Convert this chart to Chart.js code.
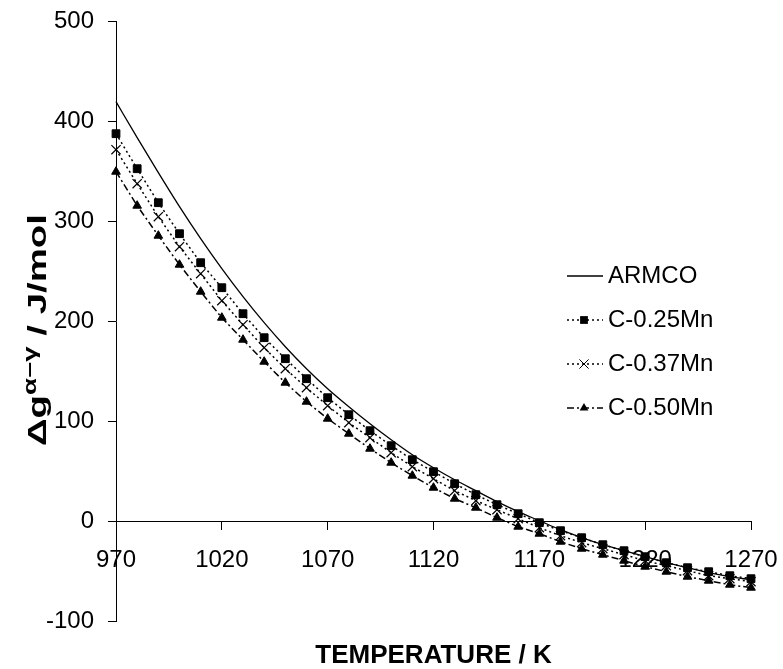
<!DOCTYPE html>
<html>
<head>
<meta charset="utf-8">
<script src="https://cdn.jsdelivr.net/npm/chart.js@4.4.1/dist/chart.umd.min.js"></script>
<style>
  html, body { margin: 0; padding: 0; background: #fff; }
</style>
</head>
<body>
<canvas id="grafico" width="783" height="669"></canvas>
<script>
// Temperaturas (K)
const temperaturas = [970, 980, 990, 1000, 1010, 1020, 1030, 1040, 1050, 1060, 1070,
  1080, 1090, 1100, 1110, 1120, 1130, 1140, 1150, 1160, 1170,
  1180, 1190, 1200, 1210, 1220, 1230, 1240, 1250, 1260, 1270];

// Δg (J/mol) para cada serie
const armco = [420, 384, 349, 315, 283, 253, 225, 199, 175, 153, 133,
  115, 98, 82, 67, 54, 42, 31, 20, 10, 1,
  -8, -16, -23, -29, -35, -41, -46, -51, -55, -58];
const c025Mn = [388, 353, 319, 288, 259, 234, 208, 184, 163, 143, 124,
  107, 91, 76, 62, 50, 38, 27, 17, 8, -1,
  -9, -16, -23, -29, -35, -41, -46, -50, -54, -57];
const c037Mn = [372, 338, 305, 275, 248, 221, 197, 174, 153, 134, 116,
  99, 84, 69, 55, 43, 31, 21, 12, 3, -6,
  -14, -21, -27, -33, -39, -44, -49, -54, -57, -60];
const c050Mn = [350, 316, 286, 257, 230, 204, 182, 160, 139, 120, 103,
  88, 73, 59, 46, 34, 23, 14, 4, -5, -12,
  -20, -27, -33, -39, -45, -50, -55, -59, -63, -66];

// Ticks dos eixos
const ticksX = [970, 1020, 1070, 1120, 1170, 1220, 1270];
const ticksY = [-100, 0, 100, 200, 300, 400, 500];

const fonte = "'Liberation Sans', Arial, sans-serif";

function pontos(valores) {
  return temperaturas.map((t, i) => ({ x: t, y: valores[i] }));
}

// Legenda desenhada dentro do gráfico
const legendaPlugin = {
  id: "legenda",
  afterDraw(chart) {
    const ctx = chart.ctx;
    const linhasY = [276, 320, 364, 408];
    const x0 = 567, x1 = 603, xm = 584;
    chart.data.datasets.forEach((ds, i) => {
      const y = linhasY[i];
      ctx.save();
      ctx.strokeStyle = "#000";
      ctx.lineWidth = ds.borderWidth;
      ctx.setLineDash(ds.borderDash || []);
      ctx.beginPath();
      ctx.moveTo(x0, y);
      ctx.lineTo(x1, y);
      ctx.stroke();
      ctx.setLineDash([]);
      ctx.fillStyle = "#000";
      ctx.lineWidth = 1;
      const r = ds.pointRadius;
      if (r > 0) {
        if (ds.pointStyle === "rect") {
          const s = r * Math.SQRT1_2;
          ctx.fillRect(xm - s, y - s, 2 * s, 2 * s);
        } else if (ds.pointStyle === "crossRot") {
          const s = r * Math.SQRT1_2;
          ctx.beginPath();
          ctx.moveTo(xm - s, y - s); ctx.lineTo(xm + s, y + s);
          ctx.moveTo(xm - s, y + s); ctx.lineTo(xm + s, y - s);
          ctx.stroke();
        } else if (ds.pointStyle === "triangle") {
          ctx.beginPath();
          ctx.moveTo(xm, y - r);
          ctx.lineTo(xm + r * 0.866, y + r / 2);
          ctx.lineTo(xm - r * 0.866, y + r / 2);
          ctx.closePath();
          ctx.fill();
        }
      }
      ctx.font = "24px " + fonte;
      ctx.textBaseline = "middle";
      ctx.textAlign = "left";
      ctx.fillText(ds.label, 608, y);
      ctx.restore();
    });
  }
};

// Título do eixo y com sobrescrito
const tituloYPlugin = {
  id: "tituloY",
  afterDraw(chart) {
    const ctx = chart.ctx;
    const partes = [
      { t: "Δg", f: "bold 25px " + fonte, dy: 0 },
      { t: "α−γ", f: "bold 18px " + fonte, dy: -10 },
      { t: " / J/mol", f: "bold 25px " + fonte, dy: 0 }
    ];
    const inicio = 446, fim = 214;   // extensão vertical do título
    ctx.save();
    let total = 0;
    partes.forEach(p => { ctx.font = p.f; p.w = ctx.measureText(p.t).width; total += p.w; });
    ctx.translate(46, inicio);
    ctx.rotate(-Math.PI / 2);
    ctx.scale((inicio - fim) / total, 1);
    ctx.fillStyle = "#000";
    ctx.textBaseline = "alphabetic";
    ctx.textAlign = "left";
    let x = 0;
    partes.forEach(p => {
      ctx.font = p.f;
      ctx.fillText(p.t, x, p.dy);
      x += p.w;
    });
    ctx.restore();
  }
};

const semPadding = s => { s.paddingTop = 0; s.paddingBottom = 0; s.paddingLeft = 0; s.paddingRight = 0; };

const ctx = document.getElementById("grafico").getContext("2d");
const grafico = new Chart(ctx, {
  type: "scatter",
  data: {
    datasets: [
      {
        label: "ARMCO",
        data: pontos(armco),
        showLine: true,
        borderColor: "#000",
        borderWidth: 1.3,
        pointRadius: 0,
        cubicInterpolationMode: "monotone",
        clip: false
      },
      {
        label: "C-0.25Mn",
        data: pontos(c025Mn),
        showLine: true,
        borderColor: "#000",
        borderWidth: 1.5,
        borderDash: [2, 3],
        pointStyle: "rect",
        pointRadius: 5.5,
        pointBackgroundColor: "#000",
        pointBorderColor: "#000",
        pointBorderWidth: 1,
        clip: false
      },
      {
        label: "C-0.37Mn",
        data: pontos(c037Mn),
        showLine: true,
        borderColor: "#000",
        borderWidth: 1.5,
        borderDash: [2, 3],
        pointStyle: "crossRot",
        pointRadius: 6.5,
        pointBackgroundColor: "#000",
        pointBorderColor: "#000",
        pointBorderWidth: 1.2,
        clip: false
      },
      {
        label: "C-0.50Mn",
        data: pontos(c050Mn),
        showLine: true,
        borderColor: "#000",
        borderWidth: 1.5,
        borderDash: [7, 3, 2, 3],
        pointStyle: "triangle",
        pointRadius: 5,
        pointBackgroundColor: "#000",
        pointBorderColor: "#000",
        pointBorderWidth: 1,
        clip: false
      }
    ]
  },
  options: {
    responsive: false,
    animation: false,
    layout: { padding: { left: 0, right: 32, top: 21.7, bottom: 0 } },
    plugins: {
      legend: { display: false },
      tooltip: { enabled: false },
      title: {
        display: true,
        text: "TEMPERATURE / K",
        position: "bottom",
        fullSize: false,
        color: "#000",
        font: { family: fonte, size: 26, weight: "bold", lineHeight: 1.05 },
        padding: { top: 20, bottom: 0 }
      }
    },
    scales: {
      x: {
        type: "linear",
        min: 970,
        max: 1270,
        position: { y: 0 },
        afterBuildTicks: s => { s.ticks = ticksX.map(v => ({ value: v })); },
        afterFit: s => { s.height = 0; semPadding(s); },
        ticks: {
          color: "#000",
          font: { family: fonte, size: 24 },
          padding: 16,
          maxRotation: 0,
          autoSkip: false,
          callback: v => String(v)
        },
        grid: { drawOnChartArea: false, drawTicks: true, tickLength: 8, color: "#000", lineWidth: 1 },
        border: { display: true, color: "#000", width: 1 }
      },
      y: {
        type: "linear",
        min: -100,
        max: 500,
        position: "left",
        afterBuildTicks: s => { s.ticks = ticksY.map(v => ({ value: v })); },
        afterFit: s => { s.width = 116; semPadding(s); },
        ticks: {
          color: "#000",
          font: { family: fonte, size: 24 },
          padding: 14,
          callback: v => String(v)
        },
        grid: { drawOnChartArea: false, drawTicks: true, tickLength: 8, color: "#000", lineWidth: 1 },
        border: { display: true, color: "#000", width: 1 }
      }
    }
  },
  plugins: [legendaPlugin, tituloYPlugin]
});
</script>
</body>
</html>
